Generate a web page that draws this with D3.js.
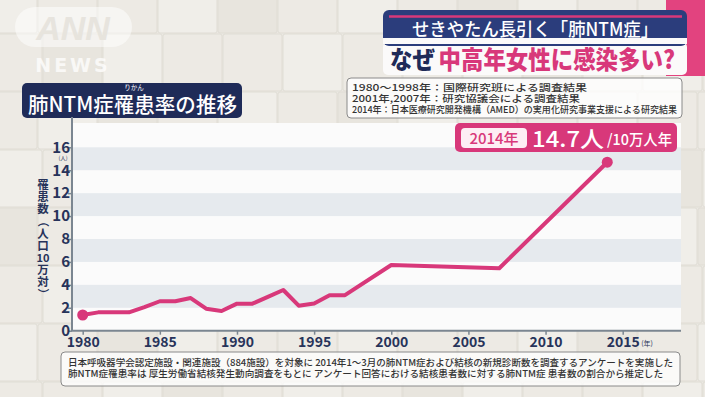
<!DOCTYPE html>
<meta charset="utf-8">
<style>
body { margin: 0; }
svg { display: block; font-family: "Noto Sans CJK JP", "Noto Sans", sans-serif; }
</style>
<svg width="705" height="397"></svg>
<script src="https://d3js.org/d3.v7.min.js"></script>
<script>

var years = [1980, 1981, 1982, 1983, 1984, 1985, 1986, 1987, 1988, 1989, 1990,
             1991, 1992, 1993, 1994, 1995, 1996, 1997, 2000, 2007, 2014];
var rate  = [1.37, 1.6, 1.6, 1.6, 2.05, 2.57, 2.57, 2.85, 1.92, 1.72, 2.36,
             2.36, 2.95, 3.55, 2.18, 2.37, 3.09, 3.1, 5.73, 5.45, 14.7];
var xTicks = [1980, 1985, 1990, 1995, 2000, 2005, 2010, 2015];
var yTicks = [0, 2, 4, 6, 8, 10, 12, 14, 16];
var sourceLines = [
    "1980〜1998年：国際研究班による調査結果",
    "2001年,2007年：研究協議会による調査結果",
    "2014年：日本医療研究開発機構（AMED）の実用化研究事業支援による研究結果"
];
var footLines = [
    "日本呼吸器学会認定施設・関連施設（884施設）を対象に 2014年1〜3月の肺NTM症および結核の新規診断数を調査するアンケートを実施した",
    "肺NTM症罹患率は 厚生労働省結核発生動向調査をもとに アンケート回答における結核患者数に対する肺NTM症 患者数の割合から推定した"
];
var yLabel = ["罹", "患", "数", "（", "人", "口", "10", "万", "対", "）"];

var pink = "#d8387a", navy = "#1f2b58", axisCol = "#7b8691", ink = "#27335a";

var svg = d3.select("svg");

// tiled wall background
svg.append("rect").attr("width", 705).attr("height", 397).attr("fill", "#ebe8e2");
var tiles = [];
d3.range(0, 8).forEach(function(r) {
    d3.range(0, 13).forEach(function(c) { tiles.push([c, r]); });
});
svg.append("g").selectAll("rect").data(tiles).enter().append("rect")
    .attr("x", function(d) { return d[0] * 60 - 22 + (d[1] % 2) * 5; })
    .attr("y", function(d) { return d[1] * 58 - 24; })
    .attr("width", 59).attr("height", 57).attr("rx", 2)
    .attr("fill", function(d) { return (d[0] + d[1]) % 3 == 0 ? "#f0eee9" : ((d[0] * 7 + d[1]) % 4 == 0 ? "#e8e5de" : "#edeae4"); })
    .attr("stroke", "#e0ddd5").attr("stroke-width", 1);

// ANN NEWS logo
svg.append("rect").attr("x", 15).attr("y", 7).attr("width", 117).attr("height", 40).attr("rx", 20)
    .attr("fill", "#fff").attr("opacity", 0.5);
svg.append("text").attr("x", 73).attr("y", 40).attr("text-anchor", "middle")
    .attr("font-family", "Liberation Sans, sans-serif").attr("font-style", "italic").attr("font-weight", "bold")
    .attr("font-size", 34).attr("fill", "#e6e3dc").attr("opacity", 0.9).text("ANN");
svg.append("text").attr("x", 73).attr("y", 72).attr("text-anchor", "middle")
    .attr("font-family", "DejaVu Sans, sans-serif").attr("font-weight", "bold")
    .attr("font-size", 19).attr("letter-spacing", 3).attr("fill", "#fff").attr("opacity", 0.75).text("NEWS");

// headline block
svg.append("rect").attr("x", 666).attr("y", 0).attr("width", 39).attr("height", 76).attr("fill", "#e2437f");
svg.append("rect").attr("x", 383).attr("y", 42).attr("width", 304).attr("height", 33).attr("rx", 5).attr("fill", "#fbfafa");
svg.append("rect").attr("x", 383).attr("y", 10).attr("width", 304).attr("height", 36).attr("rx", 6).attr("fill", "#2b3d7c");
svg.append("rect").attr("x", 383).attr("y", 38).attr("width", 304).attr("height", 6).attr("fill", "#fbfafa");
svg.append("line").attr("x1", 389).attr("x2", 682).attr("y1", 16.5).attr("y2", 16.5)
    .attr("stroke", pink).attr("stroke-width", 2.5);
svg.append("text").attr("x", 535).attr("y", 36).attr("text-anchor", "middle")
    .attr("font-size", 18).attr("font-weight", 500).attr("fill", "#fff")
    .attr("textLength", 246).attr("lengthAdjust", "spacingAndGlyphs")
    .text("せきやたん長引く「肺NTM症」");
var hl = svg.append("text").attr("x", 390).attr("y", 69)
    .attr("font-size", 25).attr("font-weight", 900)
    .attr("textLength", 285).attr("lengthAdjust", "spacingAndGlyphs");
hl.append("tspan").attr("fill", navy).text("なぜ");
hl.append("tspan").attr("fill", pink).attr("dx", 4).text("中高年女性に感染多い?");

// source note
svg.append("rect").attr("x", 347).attr("y", 78).attr("width", 335).attr("height", 40).attr("rx", 4)
    .attr("fill", "#fff").attr("fill-opacity", 0.8).attr("stroke", "#8a8a8a");
svg.append("g").selectAll("text").data(sourceLines).enter().append("text")
    .attr("x", 352).attr("y", function(d, i) { return 90.5 + i * 11; })
    .attr("font-size", 9.5).attr("font-weight", 500).attr("fill", "#333")
    .attr("textLength", function(d, i) { return [235, 228, 325][i]; })
    .attr("lengthAdjust", "spacingAndGlyphs")
    .text(function(d) { return d; });

// chart title
svg.append("rect").attr("x", 22).attr("y", 83).attr("width", 220).attr("height", 35).attr("rx", 5).attr("fill", navy);
svg.append("text").attr("x", 28).attr("y", 112).attr("font-size", 21).attr("font-weight", 500).attr("fill", "#fff")
    .attr("textLength", 209).attr("lengthAdjust", "spacingAndGlyphs").text("肺NTM症罹患率の推移");
svg.append("text").attr("x", 134).attr("y", 90).attr("text-anchor", "middle").attr("font-size", 6.5)
    .attr("fill", "#fff").text("りかん");

// chart
var x = d3.scaleLinear().domain([1980, 2015]).range([82.7, 622.7]),
    y = d3.scaleLinear().domain([0, 16]).range([330.7, 147.3]);

svg.append("rect").attr("x", 72).attr("y", 123).attr("width", 609).attr("height", 208).attr("fill", "#fbfbfb");
svg.append("g").selectAll("rect").data([2, 6, 10, 14]).enter().append("rect")
    .attr("x", 72).attr("width", 609)
    .attr("y", function(d) { return y(d + 2); })
    .attr("height", function(d) { return y(d) - y(d + 2); })
    .attr("fill", "#e6eaee");

var gx = svg.append("g").attr("transform", "translate(0," + y(0) + ")")
    .call(d3.axisBottom(x).tickValues(xTicks).tickFormat(d3.format("d")).tickSize(4).tickSizeOuter(0));
gx.select(".domain").attr("d", "M72,0H681").attr("stroke", axisCol).attr("stroke-width", 2);
gx.selectAll(".tick line").attr("stroke", axisCol).attr("stroke-width", 1.5);
gx.selectAll(".tick text").attr("y", 6).attr("font-size", 14).attr("font-weight", 700).attr("fill", ink)
    .attr("font-family", "Noto Sans CJK JP, sans-serif");

var gy = svg.append("g").attr("transform", "translate(72,0)")
    .call(d3.axisLeft(y).tickValues(yTicks).tickSize(4).tickSizeOuter(0));
gy.select(".domain").attr("d", "M0,117V331").attr("stroke", axisCol).attr("stroke-width", 2);
gy.selectAll(".tick line").attr("stroke", axisCol).attr("stroke-width", 1.5);
gy.selectAll(".tick text").attr("x", -2).attr("font-size", 15).attr("font-weight", 700).attr("fill", ink)
    .attr("font-family", "Noto Sans CJK JP, sans-serif");

svg.append("text").attr("x", 63).attr("y", 159.5).attr("text-anchor", "middle").attr("font-size", 5.5)
    .attr("fill", ink).text("(人)");
svg.append("text").attr("x", 647).attr("y", 346).attr("text-anchor", "middle").attr("font-size", 7)
    .attr("fill", ink).text("(年)");

svg.append("g").selectAll("text").data(yLabel).enter().append("text")
    .attr("transform", function(d, i) {
        var cy = 185 + i * 12.1;
        return "translate(43," + cy + ")" + ((d == "（" || d == "）") ? " rotate(90)" : "");
    })
    .attr("text-anchor", "middle").attr("dy", "0.36em")
    .attr("font-size", function(d) { return d == "10" ? 11 : 11.5; })
    .attr("font-weight", 700).attr("fill", ink)
    .text(function(d) { return d; });

var pts = years.map(function(d, i) { return [d, rate[i]]; });
svg.append("path").datum(pts)
    .attr("fill", "none").attr("stroke", pink).attr("stroke-width", 4).attr("stroke-linejoin", "round")
    .attr("d", d3.line().x(function(d) { return x(d[0]); }).y(function(d) { return y(d[1]); }));
svg.append("g").selectAll("circle").data([pts[0], pts[pts.length - 1]]).enter().append("circle")
    .attr("cx", function(d) { return x(d[0]); })
    .attr("cy", function(d) { return y(d[1]); })
    .attr("r", 5.5).attr("fill", pink);

// 2014 callout
svg.append("rect").attr("x", 455).attr("y", 123).attr("width", 222).attr("height", 29).attr("rx", 5).attr("fill", pink);
svg.append("rect").attr("x", 461).attr("y", 128).attr("width", 66).attr("height", 20).attr("rx", 4).attr("fill", "#fdeef4");
svg.append("text").attr("x", 494).attr("y", 144).attr("text-anchor", "middle").attr("font-size", 15)
    .attr("font-weight", 500).attr("fill", pink).text("2014年");
svg.append("text").attr("x", 532).attr("y", 146.5).attr("font-size", 22).attr("font-weight", 500).attr("fill", "#fff")
    .attr("textLength", 72).attr("lengthAdjust", "spacingAndGlyphs").text("14.7人");
svg.append("text").attr("x", 607).attr("y", 145).attr("font-size", 15).attr("font-weight", 500).attr("fill", "#fff")
    .attr("textLength", 65).attr("lengthAdjust", "spacingAndGlyphs").text("/10万人年");

// footnote
svg.append("rect").attr("x", 61).attr("y", 352).attr("width", 619).attr("height", 34).attr("rx", 4)
    .attr("fill", "#fff").attr("fill-opacity", 0.75).attr("stroke", "#8a8a8a");
svg.append("g").selectAll("text").data(footLines).enter().append("text")
    .attr("x", 68).attr("y", function(d, i) { return 366 + i * 11; })
    .attr("font-size", 9.5).attr("font-weight", 500).attr("fill", "#333")
    .attr("textLength", function(d, i) { return [605, 595][i]; })
    .attr("lengthAdjust", "spacingAndGlyphs")
    .text(function(d) { return d; });

</script>
